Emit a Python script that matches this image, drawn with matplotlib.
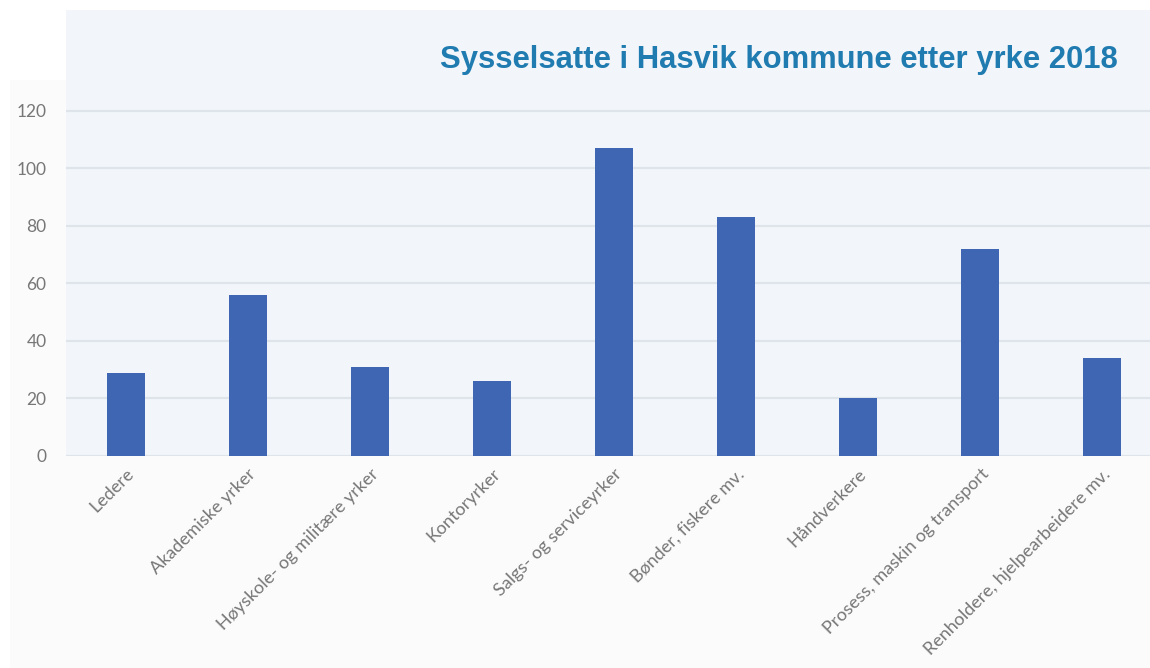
import matplotlib.pyplot as plt
from matplotlib.patches import Rectangle

# data
yrker = ['Ledere', 'Akademiske yrker', 'Høyskole- og militære yrker', 'Kontoryrker',
         'Salgs- og serviceyrker', 'Bønder, fiskere mv.', 'Håndverkere',
         'Prosess, maskin og transport', 'Renholdere, hjelpearbeidere mv.']
antall = [29, 56, 31, 26, 107, 83, 20, 72, 34]
y_ticks = [0, 20, 40, 60, 80, 100, 120]
tittel = 'Sysselsatte i Hasvik kommune etter yrke 2018'

plt.rcParams['font.family'] = ['Lato', 'DejaVu Sans']

fig = plt.figure(figsize=(11.5, 6.68), dpi=100, facecolor='white')
# svakt grått område rundt plottet
fig.patches.append(Rectangle((0.009, 0.0), 0.991, 0.88, transform=fig.transFigure,
                             facecolor='#fbfbfc', edgecolor='none', zorder=-5))
ax = fig.add_axes([0.0574, 0.3174, 0.9426, 0.6676])
ax.set_facecolor('#f2f6fa')

x = range(len(yrker))
ax.bar(x, antall, width=0.31, color='#3f66b2', zorder=3)

ax.set_ylim(0, 155)
ax.set_xlim(-0.49, 8.39)
ax.set_yticks(y_ticks)
for t in y_ticks:
    ax.axhline(t, color='#dfe4ea', lw=1.6, zorder=1)

ax.set_xticks(list(x))
ax.set_xticklabels(yrker, rotation=45, ha='right', rotation_mode='anchor',
                   fontsize=13, color='#777777')
ax.tick_params(axis='both', length=0)
ax.tick_params(axis='y', pad=14, labelsize=12.5, labelcolor='#777777')
ax.tick_params(axis='x', pad=7)
for s in ax.spines.values():
    s.set_visible(False)

fig.text(0.972, 0.91, tittel, ha='right', va='center', fontsize=22.3,
         fontweight='bold', color='#1f7bb0', family=['Liberation Sans', 'DejaVu Sans'])

fig.savefig('out.png', dpi=100, facecolor='white')
